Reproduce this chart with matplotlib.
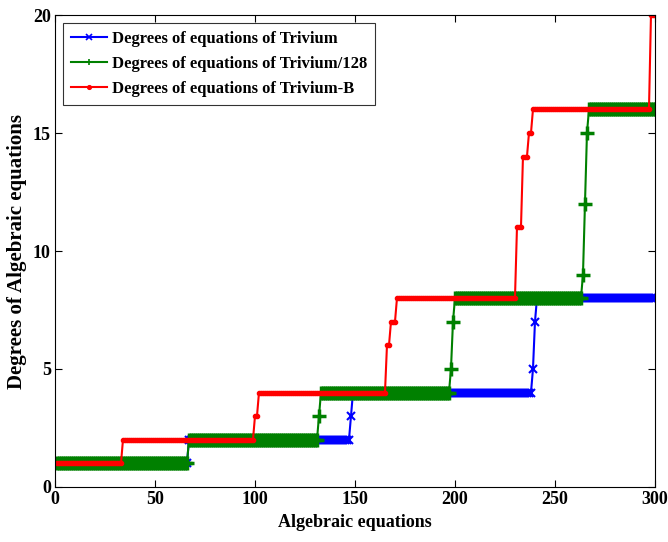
import numpy as np
import matplotlib
matplotlib.use("Agg")
import matplotlib.pyplot as plt

plt.rcParams['font.family'] = 'Liberation Serif'
plt.rcParams['font.weight'] = 'bold'

# degree levels and how many consecutive equations stay at each level
trivium_levels = [1, 2, 3, 4, 5, 7, 8]
trivium_runs = [66, 81, 1, 90, 1, 1, 60]

t128_levels = [1, 2, 3, 4, 5, 7, 8, 9, 12, 15, 16]
t128_runs = [66, 65, 1, 65, 1, 1, 64, 1, 1, 1, 34]

tb_levels = [1, 2, 3, 4, 6, 7, 8, 11, 14, 15, 16, 20]
tb_runs = [33, 66, 2, 64, 2, 3, 60, 3, 3, 2, 59, 3]

labels = ['Degrees of equations of Trivium',
          'Degrees of equations of Trivium/128',
          'Degrees of equations of Trivium-B']

x = np.arange(1, 301)
y_triv = np.repeat(trivium_levels, trivium_runs)
y_128 = np.repeat(t128_levels, t128_runs)
y_b = np.repeat(tb_levels, tb_runs)

fig = plt.figure(figsize=(6.68, 5.42), dpi=100)
ax = fig.add_axes([0.0823, 0.1015, 0.8982, 0.8708])

ax.plot(x, y_triv, color='#0000ff', marker='x', markersize=5.5, markeredgewidth=1.5,
        lw=1.5, label=labels[0])
ax.plot(x, y_128, color='#008000', marker='+', markersize=10, markeredgewidth=2.5,
        lw=1.5, label=labels[1])
ax.plot(x, y_b, color='#ff0000', marker='.', markersize=6, lw=1.5, label=labels[2])

ax.set_xlim(0, 300)
ax.set_ylim(0, 20)
ax.set_xticks([0, 50, 100, 150, 200, 250, 300])
ax.set_yticks([0, 5, 10, 15, 20])
ax.tick_params(direction='in', top=True, right=True, labelsize=13, length=5, pad=3)
ax.set_xlabel('Algebraic equations', fontsize=13, fontweight='bold', labelpad=4)
ax.set_ylabel('Degrees of Algebraic equations', fontsize=15, fontweight='bold', labelpad=4)

leg = ax.legend(loc='upper left', fontsize=12, frameon=True, fancybox=False,
                edgecolor='black', handlelength=2.2, borderaxespad=0.5,
                labelspacing=0.55, handletextpad=0.3, borderpad=0.45)
leg.get_frame().set_linewidth(0.8)
for line in leg.get_lines():
    line.set_linewidth(1.5)
    line.set_markersize(5)
    line.set_markeredgewidth(1.2)

fig.savefig('out.png', dpi=100)
